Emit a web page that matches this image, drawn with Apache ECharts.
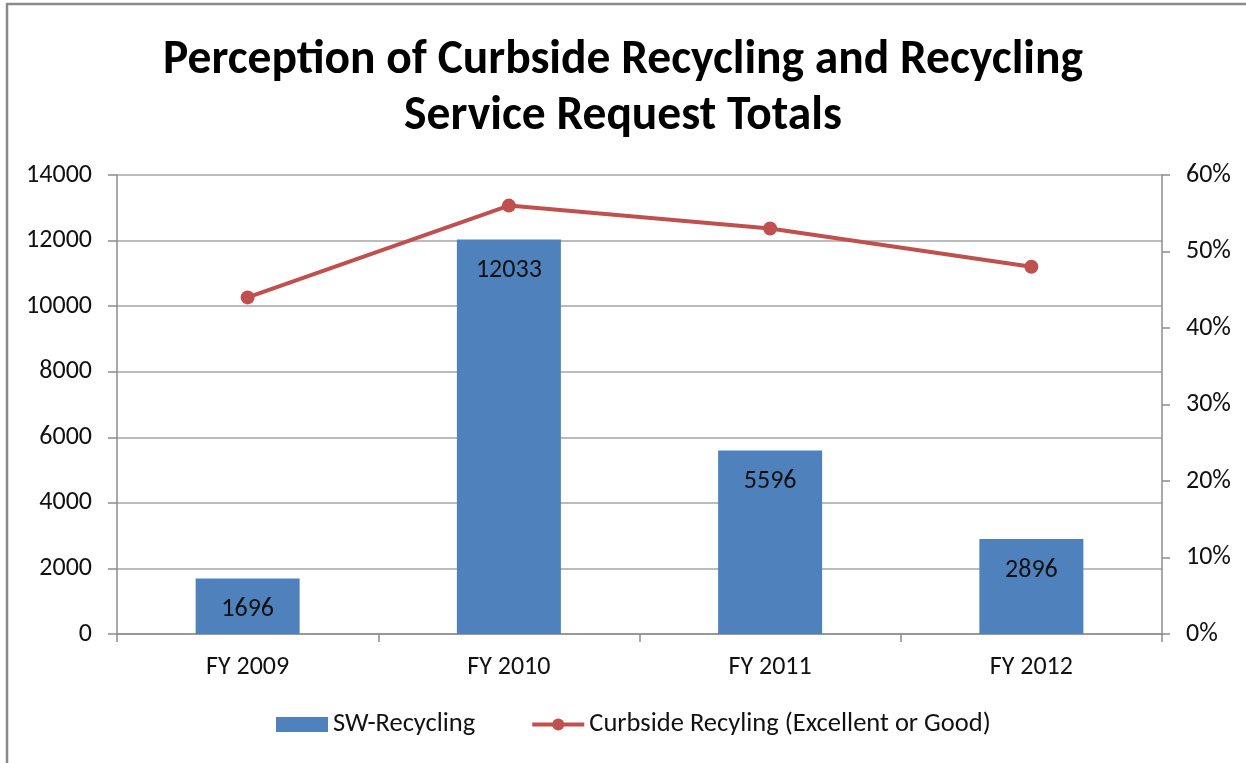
<!DOCTYPE html>
<html>
<head>
<meta charset="utf-8">
<script src="https://cdn.jsdelivr.net/npm/echarts@6/dist/echarts.min.js"></script>
<style>
  html, body { margin: 0; padding: 0; background: #fff; }
  #chart { width: 1246px; height: 763px; }
</style>
</head>
<body>
<div id="chart"></div>
<script>
// Fiscal years on the category axis
const categories = ['FY 2009', 'FY 2010', 'FY 2011', 'FY 2012'];
// SW-Recycling service requests (left axis)
const serviceRequests = [1696, 12033, 5596, 2896];
// Share rating curbside recycling Excellent or Good (right axis, fraction)
const curbsideRating = [0.44, 0.56, 0.53, 0.48];

const FONT = "Carlito, 'Open Sans', 'Noto Sans', sans-serif";
const AXIS_GREY = '#8c8c8c';
const LABEL_SIZE = 26;

const chart = echarts.init(document.getElementById('chart'), null, { renderer: 'canvas' });

chart.setOption({
  backgroundColor: '#ffffff',
  animation: false,
  graphic: [{
    type: 'rect',
    shape: { x: 7, y: 4, width: 1400, height: 900 },
    style: { fill: 'none', stroke: '#8a8a8a', lineWidth: 2.5 },
    silent: true
  }],
  title: {
    text: 'Perception of Curbside Recycling and Recycling\nService Request Totals',
    left: 'center',
    top: 28,
    textStyle: {
      fontFamily: FONT,
      fontWeight: 'bold',
      fontSize: 47.5,
      lineHeight: 56,
      color: '#000'
    }
  },
  legend: {
    bottom: 20,
    left: 271,
    itemGap: 55,
    itemWidth: 52,
    itemHeight: 15,
    textStyle: { fontFamily: FONT, fontSize: 26.5, color: '#111' },
    data: [
      { name: 'SW-Recycling', icon: 'rect' },
      {
        name: 'Curbside Recyling (Excellent or Good)',
        lineStyle: { color: '#c0504d', width: 4 }
      }
    ]
  },
  grid: { left: 117, right: 84, top: 175, bottom: 129 },
  xAxis: {
    type: 'category',
    data: categories,
    boundaryGap: true,
    axisLine: { lineStyle: { color: AXIS_GREY, width: 1.5 } },
    axisTick: { show: true, alignWithLabel: false, length: 8, lineStyle: { color: AXIS_GREY, width: 1.5 } },
    axisLabel: { fontFamily: FONT, fontSize: LABEL_SIZE, color: '#111', margin: 20 }
  },
  yAxis: [
    {
      type: 'value',
      min: 0,
      max: 14000,
      interval: 2000,
      axisLine: { show: true, lineStyle: { color: AXIS_GREY, width: 1.5 } },
      axisTick: { show: true, inside: false, length: 9, lineStyle: { color: AXIS_GREY, width: 1.5 } },
      axisLabel: {
        fontFamily: FONT, fontSize: LABEL_SIZE, color: '#111', margin: 25,
        formatter: v => String(v)
      },
      splitLine: { show: true, lineStyle: { color: '#a6a6a6', width: 1.5 } }
    },
    {
      type: 'value',
      min: 0,
      max: 0.6,
      interval: 0.1,
      position: 'right',
      axisLine: { show: true, lineStyle: { color: AXIS_GREY, width: 1.5 } },
      axisTick: { show: true, length: 8, lineStyle: { color: AXIS_GREY, width: 1.5 } },
      axisLabel: {
        fontFamily: FONT, fontSize: LABEL_SIZE, color: '#111', margin: 24,
        formatter: v => Math.round(v * 100) + '%'
      },
      splitLine: { show: false }
    }
  ],
  series: [
    {
      name: 'SW-Recycling',
      type: 'bar',
      yAxisIndex: 0,
      data: serviceRequests,
      barWidth: 104,
      itemStyle: { color: '#4f81bd' },
      label: {
        show: true,
        position: 'insideTop',
        distance: 18,
        fontFamily: FONT,
        fontSize: LABEL_SIZE,
        color: '#111'
      },
      z: 2
    },
    {
      name: 'Curbside Recyling (Excellent or Good)',
      type: 'line',
      yAxisIndex: 1,
      data: curbsideRating,
      symbol: 'circle',
      symbolSize: 14,
      lineStyle: { color: '#c0504d', width: 4 },
      itemStyle: { color: '#c0504d' },
      z: 3
    }
  ]
});
</script>
</body>
</html>
